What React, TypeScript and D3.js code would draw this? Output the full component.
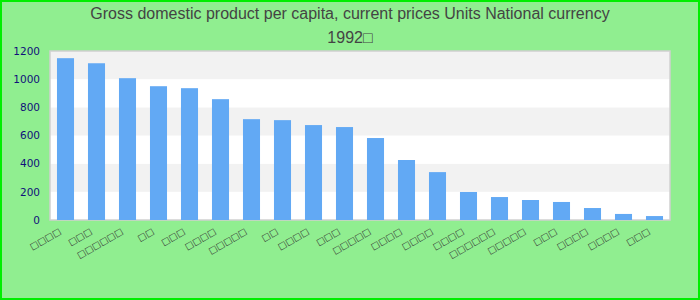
import React from "react";
import * as d3 from "d3";

const categories = [
  "□□□□", "□□□", "□□□□□□", "□□", "□□□", "□□□□", "□□□□□", "□□", "□□□□", "□□□",
  "□□□□□", "□□□□", "□□□□", "□□□□", "□□□□□□", "□□□□□", "□□□", "□□□□", "□□□□", "□□□",
];
const values = [1149, 1113, 1007, 950, 936, 858, 716, 709, 674, 660, 582, 426, 340, 199, 163, 142, 128, 85, 43, 28];
const yTicks = [0, 200, 400, 600, 800, 1000, 1200];
const titleLines = ["Gross domestic product per capita, current prices Units National currency", "1992□"];

const W = 700, H = 300;
const M = { left: 50, right: 30, top: 51, bottom: 80 };

export default function App() {
  const x = d3
    .scaleBand<string>()
    .domain(categories.map((_, i) => String(i)))
    .range([M.left, W - M.right])
    .paddingInner(0.45)
    .paddingOuter(0.225);
  const y = d3.scaleLinear().domain([0, 1200]).range([H - M.bottom, M.top]);
  const bands = d3.range(0, 1200, 200);

  return (
    <svg width={W} height={H} style={{ position: "absolute", left: 0, top: 0 }}>
      <rect x={1} y={1} width={W - 2} height={H - 2} fill="#90ee90" stroke="#00ee00" strokeWidth={2} />
      {titleLines.map((t, i) => (
        <text key={i} x={W / 2} y={19 + i * 24} textAnchor="middle" fontFamily="Liberation Sans, Arial, sans-serif" fontSize={16} fill="#444">
          {t}
        </text>
      ))}
      <rect x={M.left} y={M.top} width={W - M.left - M.right} height={H - M.top - M.bottom} fill="#fff" />
      {bands.map((b) => (
        <rect key={b} x={M.left} y={y(b + 200)} width={W - M.left - M.right} height={y(b) - y(b + 200)} fill={(b / 200) % 2 === 1 ? "#f2f2f2" : "#ffffff"} />
      ))}
      <rect x={M.left} y={M.top} width={W - M.left - M.right} height={H - M.top - M.bottom} fill="none" stroke="#d0d0d0" strokeWidth={1.5} />
      {values.map((v, i) => (
        <rect key={i} x={x(String(i))} y={y(v)} width={x.bandwidth()} height={y(0) - y(v)} fill="#62a9f4" />
      ))}
      {yTicks.map((t) => (
        <text key={t} x={40} y={y(t)} dy="0.35em" textAnchor="end" fontFamily="DejaVu Sans, sans-serif" fontSize={10.5} fill="#10107a">
          {t}
        </text>
      ))}
      {categories.map((c, i) => {
        const cx = (x(String(i)) as number) + x.bandwidth() / 2;
        return (
          <text key={i} transform={`translate(${cx - 4},${233}) rotate(-30)`} textAnchor="end" fontFamily="DejaVu Sans, sans-serif" fontSize={9} fill="#333">
            {c}
          </text>
        );
      })}
    </svg>
  );
}
